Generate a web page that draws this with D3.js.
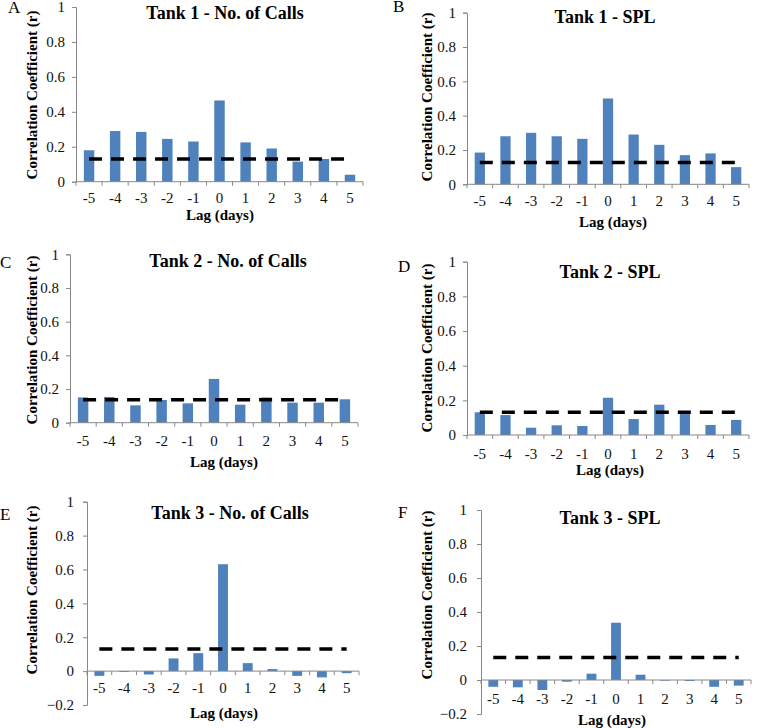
<!DOCTYPE html>
<html>
<head>
<meta charset="utf-8">
<script src="https://cdn.jsdelivr.net/npm/d3@7"></script>
<style>
  body { margin: 0; background: #fff; }
  svg { display: block; font-family: "Liberation Serif", "Times New Roman", serif; }
  .axis path, .axis line { stroke: #888; }
  .axis text { font-size: 15px; fill: #111; font-family: "Liberation Serif", serif; }
</style>
</head>
<body>
<svg id="chart" width="758" height="728"></svg>
<script>
var svg = d3.select('#chart');

// lag categories shared by every panel
var lags = [-5, -4, -3, -2, -1, 0, 1, 2, 3, 4, 5];

// correlation coefficients
var tank1Calls = [0.18, 0.29, 0.285, 0.245, 0.23, 0.465, 0.225, 0.19, 0.115, 0.13, 0.04];
var tank1Spl   = [0.185, 0.28, 0.30, 0.28, 0.265, 0.50, 0.29, 0.23, 0.17, 0.18, 0.10];
var tank2Calls = [0.15, 0.153, 0.103, 0.135, 0.115, 0.26, 0.107, 0.15, 0.119, 0.119, 0.139];
var tank2Spl   = [0.131, 0.115, 0.042, 0.056, 0.052, 0.215, 0.092, 0.175, 0.135, 0.058, 0.087];
var tank3Calls = [-0.028, -0.005, -0.02, 0.075, 0.106, 0.631, 0.047, 0.012, -0.028, -0.037, -0.012];
var tank3Spl   = [-0.04, -0.043, -0.059, -0.01, 0.037, 0.337, 0.031, -0.004, -0.006, -0.04, -0.033];

// significance thresholds (dashed lines)
var thresholds = [0.13, 0.127, 0.136, 0.131, 0.13, 0.133];

var titles = ['Tank 1 - No. of Calls', 'Tank 1 - SPL', 'Tank 2 - No. of Calls',
              'Tank 2 - SPL', 'Tank 3 - No. of Calls', 'Tank 3 - SPL'];
var letters = ['A', 'B', 'C', 'D', 'E', 'F'];
var yMins = [0, 0, 0, 0, -0.2, -0.2];
var series = [tank1Calls, tank1Spl, tank2Calls, tank2Spl, tank3Calls, tank3Spl];

// pixel layout of each panel
var layout = [
  {left: 76,  right: 363, top: 7,     bottom: 181.7, pad: 11, ypad: 7,  title: [225, 19],  letter: [8, 13],    ytitle: [32, 95],   lag: [220, 220]},
  {left: 467, right: 749, top: 12.7,  bottom: 184.3, pad: 11, ypad: 7,  title: [605, 23],  letter: [393, 12],  ytitle: [427, 97],  lag: [613, 227]},
  {left: 70,  right: 358, top: 254.3, bottom: 422.7, pad: 13, ypad: 7,  title: [228, 267], letter: [0, 268],   ytitle: [32, 340],  lag: [224, 467]},
  {left: 467, right: 749, top: 261.7, bottom: 435,   pad: 13, ypad: 7,  title: [610, 278], letter: [398, 272], ytitle: [427, 348], lag: [610, 475]},
  {left: 87,  right: 359, top: 501.7, bottom: 705,   pad: 11, ypad: 9,  title: [230, 519], letter: [0, 520],   ytitle: [32, 590],  lag: [224, 718]},
  {left: 481, right: 751, top: 510,   bottom: 714,   pad: 13, ypad: 10, title: [610, 524], letter: [398, 518], ytitle: [427, 595], lag: [612, 725]}
];

function drawPanel(i) {
  var L = layout[i];
  var values = series[i];

  var x = d3.scaleBand()
            .domain(lags)
            .range([L.left, L.right]);

  var y = d3.scaleLinear()
            .domain([yMins[i], 1])
            .range([L.bottom, L.top]);

  var g = svg.append('g');

  // y axis
  g.append('g')
    .attr('class', 'axis')
    .attr('transform', `translate(${L.left},0)`)
    .call(d3.axisLeft(y)
      .tickValues(d3.range(yMins[i], 1.0001, 0.2))
      .tickSize(4)
      .tickPadding(L.ypad)
      .tickFormat(d => d3.format('~g')(+d.toFixed(1))));

  // bars
  var bw = x.bandwidth() * 0.4;
  g.selectAll('.bar')
    .data(values)
    .enter()
    .append('rect')
      .attr('x', (d, j) => x(lags[j]) + (x.bandwidth() - bw) / 2)
      .attr('y', d => y(Math.max(0, d)))
      .attr('width', bw)
      .attr('height', d => Math.abs(y(d) - y(0)))
      .attr('fill', '#4f81bd');

  // x axis at zero
  var xAxis = g.append('g')
    .attr('class', 'axis')
    .attr('transform', `translate(0,${y(0)})`)
    .call(d3.axisBottom(x).tickSize(0).tickPadding(L.pad).tickSizeOuter(0));
  xAxis.select('.domain').attr('d', `M${L.left},0H${L.right}`);

  // category boundary ticks
  var bounds = lags.map(d => x(d)).concat([L.right]);
  g.selectAll('.btick')
    .data(bounds)
    .enter()
    .append('line')
      .attr('x1', d => d).attr('x2', d => d)
      .attr('y1', y(0)).attr('y2', y(0) + 4)
      .attr('stroke', '#888');

  // threshold line
  g.append('line')
    .attr('x1', x(lags[0]) + x.bandwidth() / 2)
    .attr('x2', x(lags[lags.length - 1]) + x.bandwidth() / 2)
    .attr('y1', y(thresholds[i]))
    .attr('y2', y(thresholds[i]))
    .attr('stroke', '#000')
    .attr('stroke-width', 3.5)
    .attr('stroke-dasharray', '13,9');

  // texts
  g.append('text')
    .attr('x', L.title[0]).attr('y', L.title[1])
    .attr('text-anchor', 'middle')
    .style('font-size', '18px').style('font-weight', 'bold')
    .text(titles[i]);

  g.append('text')
    .attr('x', L.letter[0]).attr('y', L.letter[1])
    .style('font-size', '17px')
    .text(letters[i]);

  g.append('text')
    .attr('transform', `translate(${L.ytitle[0]},${L.ytitle[1]}) rotate(-90)`)
    .attr('text-anchor', 'middle')
    .attr('dy', '0.35em')
    .style('font-size', '15px').style('font-weight', 'bold')
    .text('Correlation Coefficient (r)');

  g.append('text')
    .attr('x', L.lag[0]).attr('y', L.lag[1])
    .attr('text-anchor', 'middle')
    .style('font-size', '15px').style('font-weight', 'bold')
    .text('Lag (days)');
}

for (var i = 0; i < 6; i++) drawPanel(i);
</script>
</body>
</html>
